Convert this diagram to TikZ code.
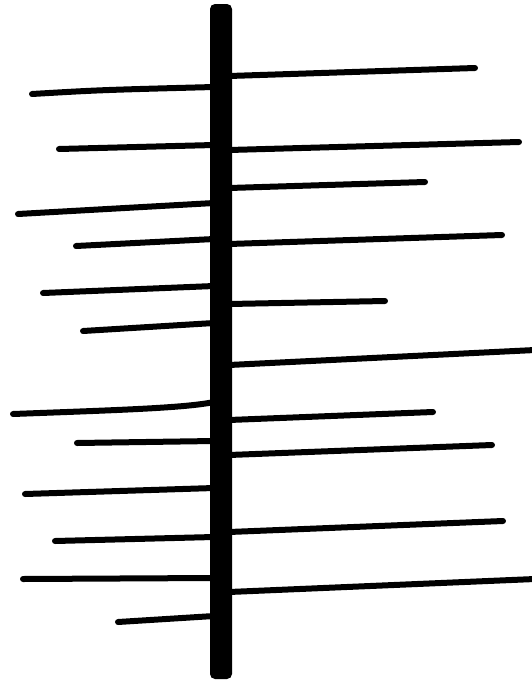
\documentclass[tikz,border=0pt]{standalone}
\begin{document}
\begin{tikzpicture}[x=1pt,y=-1pt,
  twig/.style={line width=6pt,line cap=round,black}]
\useasboundingbox (0,0) rectangle (532,681);
\fill[black,rounded corners=5pt] (210,4) rectangle (232,679);
% left branches
\draw[twig] (32,94) .. controls (100,90) .. (214,87);
\draw[twig] (59,149) -- (214,145);
\draw[twig] (18,214) -- (214,203);
\draw[twig] (76,246) -- (214,239);
\draw[twig] (43,293) -- (214,286);
\draw[twig] (83,331) -- (214,323);
\draw[twig] (13,414) .. controls (120,410) and (185,408) .. (214,402);
\draw[twig] (77,443) -- (214,441);
\draw[twig] (25,494) -- (214,488);
\draw[twig] (55,541) -- (214,537);
\draw[twig] (23,579) -- (214,578);
\draw[twig] (118,622) -- (214,616);
% right branches
\draw[twig] (229,76) -- (475,68);
\draw[twig] (229,150) -- (519,142);
\draw[twig] (229,188) -- (425,182);
\draw[twig] (229,244) -- (502,235);
\draw[twig] (229,304) -- (385,301);
\draw[twig] (229,365) -- (535,350);
\draw[twig] (229,420) -- (433,412);
\draw[twig] (229,455) -- (492,445);
\draw[twig] (229,532) -- (503,521);
\draw[twig] (229,592) -- (535,579);
\end{tikzpicture}
\end{document}
